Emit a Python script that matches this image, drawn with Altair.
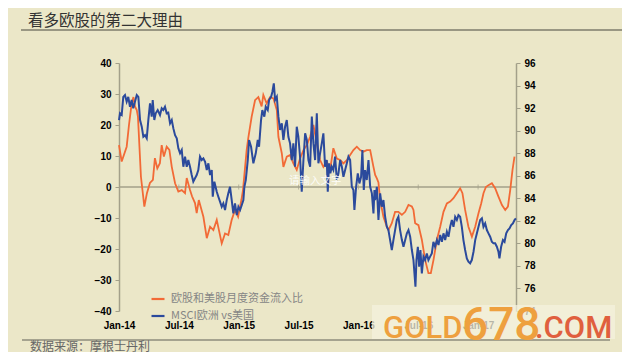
import altair as alt
import pandas as pd

title_text = "看多欧股的第二大理由"
source_text = "数据来源：摩根士丹利"
placeholder_text = "请输入文字"
series_names = ["欧股和美股月度资金流入比", "MSCI欧洲 vs美国"]
series_colors = ["#F26A36", "#2B4A9C"]
tick_months = [0, 6, 12, 18, 24, 30, 36]
tick_labels = ["Jan-14", "Jul-14", "Jan-15", "Jul-15", "Jan-16", "Jul-16", "Jan-17"]
left_ticks = [-40, -30, -20, -10, 0, 10, 20, 30, 40]
right_ticks = [74, 76, 78, 80, 82, 84, 86, 88, 90, 92, 94, 96]

# months since Jan-2014
orange_month = [0.00, 0.27, 0.77, 1.00, 1.27, 1.45, 1.60, 1.78, 1.90, 2.00,
                2.20, 2.54, 2.80, 3.10, 3.40, 3.60, 3.84, 4.10, 4.28, 4.50,
                4.78, 5.05, 5.29, 5.62, 5.95, 6.29, 6.62, 6.79, 7.12, 7.32,
                7.62, 7.79, 8.00, 8.46, 8.80, 9.13, 9.46, 9.80, 10.30, 10.63,
                10.96, 11.30, 11.63, 11.94, 12.27, 12.43, 12.80, 12.97, 13.30, 13.64,
                13.97, 14.30, 14.47, 14.80, 15.15, 15.48, 15.82, 15.98, 16.32, 16.48,
                16.82, 17.15, 17.48, 17.82, 18.15, 18.49, 18.83, 19.16, 19.49, 19.83,
                20.16, 20.49, 20.83, 21.16, 21.49, 21.84, 22.17, 22.50, 22.84, 23.17,
                23.50, 23.84, 24.17, 24.50, 24.84, 25.18, 25.51, 25.68, 25.85, 26.01,
                26.18, 26.51, 26.85, 27.01, 27.35, 27.68, 28.01, 28.36, 28.69, 29.02,
                29.36, 29.52, 29.69, 30.02, 30.36, 30.69, 31.02, 31.26, 31.53, 31.87,
                32.20, 32.53, 32.87, 33.20, 33.53, 33.87, 34.20, 34.43, 34.70, 35.03,
                35.38, 35.71, 36.04, 36.31, 36.54, 36.78, 37.04, 37.38, 37.71, 38.04,
                38.39, 38.72, 38.99, 39.22, 39.45, 39.65]
orange_value = [13.5, 8.2, 13.0, 20.0, 27.0, 29.0, 26.0, 24.8, 22.7, 16.2,
                3.3, -6.3, -2.0, 1.3, 2.3, 9.3, 6.0, 7.7, 13.5, 9.8,
                13.0, 12.0, 6.5, 1.2, -1.5, -1.0, -2.0, 2.9, -1.0, -3.0,
                -5.2, -8.4, -4.2, -9.6, -16.5, -12.8, -13.9, -10.6, -18.2, -15.0,
                -15.5, -10.6, -7.4, -9.6, -4.2, -1.0, 12.0, 16.0, 22.7, 28.0,
                29.0, 26.0, 29.7, 27.0, 29.0, 28.6, 24.8, 16.2, 10.9, 6.5,
                9.8, 10.3, 7.6, 5.5, 9.2, 11.9, 13.5, 16.2, 20.0, 14.1,
                8.7, 6.5, 8.2, 5.5, 12.5, 9.2, 8.7, 7.6, 8.7, 10.3,
                11.9, 13.0, 11.9, 11.4, 11.9, 11.9, 6.5, 3.9, 2.8, 1.5,
                -4.2, -9.6, -12.8, -13.9, -11.7, -8.0, -8.0, -9.0, -8.0, -5.8,
                -6.3, -7.4, -11.7, -12.3, -17.0, -23.5, -27.8, -27.8, -23.5, -17.0,
                -12.8, -8.0, -5.3, -4.7, -3.6, -2.0, -0.4, -2.0, -7.4, -12.8,
                -16.0, -12.8, -8.5, -5.3, -2.0, 0.0, 0.6, 1.2, -0.4, -3.1,
                -5.8, -7.4, -6.3, -1.0, 5.5, 9.8]

blue_month = [0.00, 0.10, 0.27, 0.43, 0.60, 0.77, 0.93, 1.10, 1.27, 1.43,
              1.60, 1.78, 1.94, 2.11, 2.28, 2.44, 2.61, 2.78, 2.94, 3.11,
              3.28, 3.38, 3.54, 3.68, 3.88, 4.11, 4.28, 4.44, 4.61, 4.78,
              4.94, 5.12, 5.29, 5.45, 5.62, 5.79, 5.95, 6.12, 6.29, 6.45,
              6.62, 6.79, 6.95, 7.12, 7.29, 7.45, 7.62, 7.79, 7.95, 8.12,
              8.29, 8.46, 8.63, 8.80, 8.96, 9.13, 9.30, 9.40, 9.56, 9.80,
              9.96, 10.13, 10.30, 10.46, 10.63, 10.80, 10.96, 11.13, 11.30, 11.46,
              11.63, 11.81, 11.97, 12.14, 12.31, 12.47, 12.57, 12.71, 12.91, 13.04,
              13.24, 13.47, 13.71, 13.91, 14.04, 14.24, 14.37, 14.57, 14.71, 14.91,
              15.05, 15.25, 15.38, 15.52, 15.65, 15.82, 15.98, 16.15, 16.32, 16.48,
              16.65, 16.82, 16.98, 17.15, 17.32, 17.48, 17.65, 17.82, 17.98, 18.15,
              18.32, 18.49, 18.66, 18.83, 18.99, 19.16, 19.33, 19.49, 19.66, 19.83,
              19.99, 20.16, 20.33, 20.49, 20.66, 20.83, 20.93, 21.06, 21.19, 21.33,
              21.49, 21.66, 21.84, 22.00, 22.17, 22.34, 22.50, 22.67, 22.84, 23.00,
              23.17, 23.34, 23.50, 23.60, 23.77, 23.94, 24.10, 24.27, 24.40, 24.54,
              24.67, 24.84, 25.01, 25.18, 25.35, 25.51, 25.61, 25.68, 25.85, 26.01,
              26.18, 26.35, 26.51, 26.68, 26.85, 27.01, 27.18, 27.35, 27.51, 27.68,
              27.85, 28.01, 28.18, 28.36, 28.52, 28.69, 28.86, 29.02, 29.19, 29.36,
              29.52, 29.62, 29.72, 29.82, 29.96, 30.09, 30.22, 30.36, 30.52, 30.69,
              30.86, 31.02, 31.19, 31.36, 31.52, 31.69, 31.87, 32.03, 32.20, 32.37,
              32.53, 32.70, 32.87, 33.03, 33.20, 33.37, 33.53, 33.70, 33.87, 34.03,
              34.20, 34.37, 34.53, 34.70, 34.87, 35.03, 35.20, 35.37, 35.54, 35.71,
              35.88, 36.04, 36.21, 36.38, 36.54, 36.71, 36.88, 37.04, 37.21, 37.38,
              37.54, 37.71, 37.88, 38.04, 38.14, 38.31, 38.49, 38.65, 38.82, 38.99,
              39.15, 39.32, 39.49, 39.65, 39.79]
blue_value = [90.94, 91.54, 91.40, 93.00, 93.16, 92.57, 93.00, 92.12, 92.72, 91.98,
              92.57, 93.16, 93.00, 90.94, 90.35, 89.46, 89.60, 89.32, 90.94, 92.42,
              91.24, 92.72, 90.94, 91.54, 91.83, 91.39, 91.98, 91.83, 92.12, 91.54,
              91.60, 90.65, 90.94, 90.20, 89.60, 89.32, 88.43, 87.99, 88.28, 86.80,
              87.69, 86.80, 87.39, 86.80, 86.06, 85.47, 85.77, 86.06, 86.50, 87.69,
              87.39, 87.54, 87.24, 86.50, 87.10, 86.06, 86.50, 84.14, 85.47, 84.58,
              84.14, 83.70, 83.25, 83.55, 82.96, 83.84, 84.44, 85.02, 83.84, 82.66,
              83.55, 82.51, 83.25, 82.96, 83.40, 83.84, 85.02, 85.62, 87.39, 89.17,
              88.57, 87.10, 87.99, 89.17, 88.57, 90.94, 91.83, 91.24, 92.12, 91.83,
              92.72, 93.00, 93.45, 94.20, 92.72, 93.00, 91.24, 90.06, 90.65, 89.17,
              90.35, 90.94, 89.46, 88.87, 87.39, 88.87, 86.80, 90.35, 89.46, 87.69,
              84.58, 87.39, 89.76, 89.17, 87.39, 86.80, 91.24, 88.87, 87.39, 91.54,
              87.10, 87.99, 88.87, 89.76, 86.80, 87.39, 84.58, 87.10, 86.21, 86.80,
              86.50, 87.69, 85.62, 86.21, 87.39, 86.80, 85.91, 86.50, 87.10, 87.69,
              87.39, 85.02, 84.73, 82.96, 85.02, 86.21, 85.32, 85.91, 88.28, 84.73,
              86.50, 85.62, 87.39, 85.02, 84.44, 82.66, 84.73, 83.84, 85.02, 82.07,
              84.44, 83.25, 83.84, 82.36, 81.47, 81.18, 80.29, 79.41, 80.29, 81.18,
              82.07, 82.36, 81.18, 80.29, 79.70, 80.29, 80.89, 81.18, 80.59, 79.41,
              78.52, 77.34, 76.15, 78.52, 79.70, 77.93, 79.41, 77.34, 78.82, 78.52,
              79.11, 78.52, 78.82, 79.11, 80.14, 79.70, 80.29, 79.85, 80.74, 80.14,
              80.89, 80.29, 81.03, 80.59, 81.47, 82.07, 81.47, 82.36, 82.07, 82.51,
              82.36, 81.47, 80.29, 79.41, 78.67, 78.37, 78.23, 78.52, 79.26, 80.29,
              80.89, 81.47, 82.07, 82.22, 81.47, 81.77, 81.18, 80.89, 80.59, 80.14,
              80.00, 80.00, 79.70, 79.26, 78.67, 79.70, 80.29, 80.14, 80.89, 81.18,
              81.33, 81.62, 81.77, 82.07, 82.22]

assert len(orange_month) == len(orange_value)
assert len(blue_month) == len(blue_value)

BG = "#EBE7C8"
AXIS = "#A3A08A"
CJK = "Noto Sans CJK SC"
LAT = "Liberation Sans"

orange_df = pd.DataFrame({"month": orange_month, "value": orange_value, "series": series_names[0]})
blue_df = pd.DataFrame({"month": blue_month, "value": blue_value, "series": series_names[1]})
tick_df = pd.DataFrame({"month": tick_months[1:]})
one = pd.DataFrame({"k": [0]})

label_expr = "[" + ",".join("'%s'" % s for s in tick_labels) + "][round(datum.value/6)]"
x_scale = alt.Scale(domain=[0, 39.8], nice=False, zero=False)
x_axis = alt.Axis(values=tick_months, labelExpr=label_expr, domain=False, ticks=False,
                  grid=False, labelPadding=9, labelFont=LAT, labelFontSize=10,
                  labelFontWeight="bold", labelColor="#000000", labelFlush=False,
                  labelOverlap=False, title=None)


def xenc():
    return alt.X("month:Q", scale=x_scale, axis=x_axis)


legend = alt.Legend(orient="none", legendX=31, legendY=228, title=None,
                    symbolType="stroke", symbolSize=169, symbolStrokeWidth=2.2,
                    labelFont=CJK, labelFontSize=11, labelColor="#858585",
                    rowPadding=4, labelOffset=5, padding=0)
color = alt.Color("series:N", scale=alt.Scale(domain=series_names, range=series_colors),
                  legend=legend)

left_scale = alt.Scale(domain=[-40, 40], nice=False, zero=False)
left_axis = alt.Axis(values=left_ticks, domainColor=AXIS, domainWidth=1.5, tickColor=AXIS,
                     tickSize=4, grid=False, labelFont=LAT, labelFontSize=10,
                     labelFontWeight="bold", labelColor="#000000", labelPadding=4,
                     title=None)
right_axis = alt.Axis(values=right_ticks, orient="right", domainColor=AXIS, domainWidth=1.5,
                      tickColor=AXIS, tickSize=4, grid=False, labelFont=LAT, labelFontSize=10,
                      labelFontWeight="bold", labelColor="#000000", labelPadding=4,
                      title=None)

zero_line = alt.Chart(one).mark_rule(color=AXIS, strokeWidth=1.3).encode(
    y=alt.Y(datum=0, scale=left_scale, axis=left_axis))
zero_ticks = alt.Chart(tick_df).mark_tick(orient="vertical", size=5, thickness=1, color=AXIS).encode(
    x=xenc(), y=alt.Y(datum=0, scale=left_scale, axis=left_axis))
orange = alt.Chart(orange_df).mark_line(strokeWidth=1.8).encode(
    x=xenc(), y=alt.Y("value:Q", scale=left_scale, axis=left_axis), color=color)
left_layer = alt.layer(zero_line, zero_ticks, orange)

blue = alt.Chart(blue_df).mark_line(strokeWidth=2.0).encode(
    x=xenc(),
    y=alt.Y("value:Q", scale=alt.Scale(domain=[74, 96], nice=False, zero=False), axis=right_axis),
    color=color)


def text(t, x, y, size, col, font=CJK, weight="normal", baseline="middle", opacity=1.0):
    return alt.Chart(one).mark_text(text=t, align="left", baseline=baseline, font=font,
                                    fontSize=size, fontWeight=weight, color=col,
                                    opacity=opacity).encode(x=alt.value(x), y=alt.value(y))


def hrule(x1, x2, y, col, w):
    return alt.Chart(one).mark_rule(color=col, strokeWidth=w).encode(
        x=alt.value(x1), x2=alt.value(x2), y=alt.value(y))


title = text(title_text, -91, -37, 15.5, "#333333", baseline="alphabetic")
title_rule = hrule(-98, 503, -33, "#7E7C6C", 1.6)
bottom_rule = hrule(-97, 491, 277, "#8E8C7C", 1.5)
source = text(source_text, -89, 283.5, 12, "#666666")
placeholder = text(placeholder_text, 170, 118, 10.5, "#FFFFFF", opacity=0.9)

wm_box = alt.Chart(one).mark_rect(color="#F4F1DE", opacity=0.75).encode(
    x=alt.value(253), x2=alt.value(496), y=alt.value(242), y2=alt.value(276))
wm1 = text("GOLD", 264, 275, 31, "#EEA03E", font="Roboto", weight=500, baseline="alphabetic")
wm2 = text("678", 343, 277, 46, "#EEA03E", font="Roboto", weight=500, baseline="alphabetic")
wm3 = text(".COM", 416, 275, 31, "#E05F3E", font="Roboto", weight=500, baseline="alphabetic")

chart = alt.layer(
    left_layer, blue, title, title_rule, bottom_rule, source, placeholder,
    wm_box, wm1, wm2, wm3
).resolve_scale(y="independent").properties(
    width=397, height=248,
    autosize=alt.AutoSizeParams(type="none"),
    padding={"left": 111, "top": 55, "right": 106, "bottom": 41},
    background=BG,
).configure_view(stroke=None)

chart.save("out.html", embed_options={"renderer": "svg", "actions": False})
